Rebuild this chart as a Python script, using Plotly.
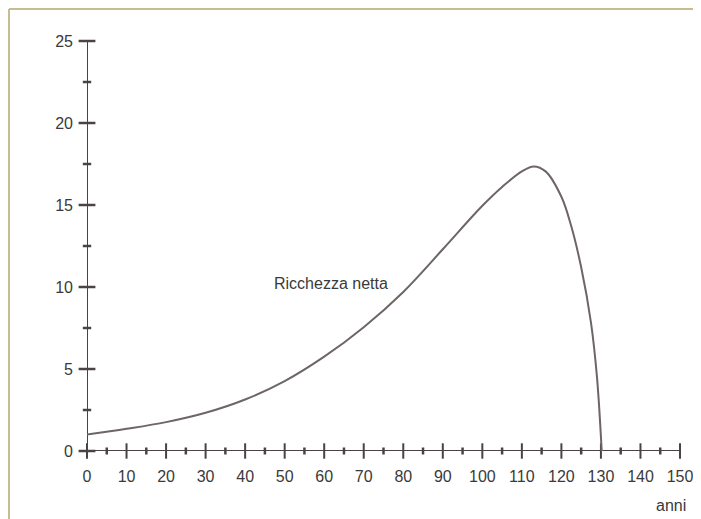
import plotly.graph_objects as go

# ---- data ----
years = [0, 10, 20, 30, 40, 50, 60, 70, 80, 90, 100, 105, 110, 113, 116, 120, 122.5, 125, 127.5, 129, 130.2]
wealth = [1.0, 1.35, 1.76, 2.33, 3.14, 4.26, 5.75, 7.55, 9.7, 12.3, 14.95, 16.1, 17.05, 17.35, 17.05, 15.5, 13.7, 11.2, 7.8, 4.5, 0.0]

x_major = [0, 10, 20, 30, 40, 50, 60, 70, 80, 90, 100, 110, 120, 130, 140, 150]
x_minor = [5, 15, 25, 35, 45, 55, 65, 75, 85, 95, 105, 115, 125, 135, 145]
y_major = [0, 5, 10, 15, 20, 25]
y_minor = [2.5, 7.5, 12.5, 17.5, 22.5]

series_label = "Ricchezza netta"
x_unit = "anni"

axis_col = "#4a4343"
curve_col = "#6e6565"
text_col = "#3a3a3a"
font_fam = "Liberation Sans Narrow, Liberation Sans, Arial, sans-serif"
fsize = 16

fig = go.Figure()

# axis lines
fig.add_trace(go.Scatter(x=[-1.8, 150], y=[0, 0], mode="lines",
                         line=dict(color=axis_col, width=2), hoverinfo="skip", cliponaxis=False))
fig.add_trace(go.Scatter(x=[0, 0], y=[0, 25], mode="lines",
                         line=dict(color=axis_col, width=2), hoverinfo="skip", cliponaxis=False))

# ticks crossing the axes
fig.add_trace(go.Scatter(x=x_major, y=[0] * len(x_major), mode="markers",
                         marker=dict(symbol="line-ns-open", size=11, color=axis_col,
                                     line=dict(color=axis_col, width=2)),
                         hoverinfo="skip", cliponaxis=False))
fig.add_trace(go.Scatter(x=x_minor, y=[0] * len(x_minor), mode="markers",
                         marker=dict(symbol="line-ns-open", size=5, color=axis_col,
                                     line=dict(color=axis_col, width=2.5)),
                         hoverinfo="skip", cliponaxis=False))
fig.add_trace(go.Scatter(x=[0] * len(y_major), y=y_major, mode="markers",
                         marker=dict(symbol="line-ew-open", size=12, color=axis_col,
                                     line=dict(color=axis_col, width=2.5)),
                         hoverinfo="skip", cliponaxis=False))
fig.add_trace(go.Scatter(x=[0] * len(y_minor), y=y_minor, mode="markers",
                         marker=dict(symbol="line-ew-open", size=6, color=axis_col,
                                     line=dict(color=axis_col, width=2.5)),
                         hoverinfo="skip", cliponaxis=False))

# curve
fig.add_trace(go.Scatter(x=years, y=wealth, mode="lines",
                         line=dict(color=curve_col, width=2, shape="spline", smoothing=1.0),
                         hoverinfo="skip", cliponaxis=False))

fig.add_annotation(x=61.7, y=10.2, text=series_label, showarrow=False,
                   font=dict(family=font_fam, size=fsize, color=text_col))
fig.add_annotation(x=150, y=0, yshift=-54, xshift=8, text=x_unit, showarrow=False, xanchor="right",
                   font=dict(family=font_fam, size=fsize, color=text_col))

# frame lines (top and left)
fig.add_shape(type="line", xref="paper", yref="paper", x0=-0.1315, x1=1.2, y0=1.078, y1=1.078,
              line=dict(color="#c7bc8e", width=2))
fig.add_shape(type="line", xref="paper", yref="paper", x0=-0.1315, x1=-0.1315, y0=1.078, y1=-0.3,
              line=dict(color="#c7bc8e", width=2))

fig.update_layout(
    width=701, height=519,
    margin=dict(l=79, r=29, t=33, b=75.5, autoexpand=False),
    paper_bgcolor="white", plot_bgcolor="white",
    showlegend=False,
    font=dict(family=font_fam, size=fsize, color=text_col),
    xaxis=dict(range=[0, 150], tickvals=x_major, ticks="", showgrid=False, zeroline=False,
               showline=False, ticklabelstandoff=14, automargin=False, tickfont=dict(size=fsize)),
    yaxis=dict(range=[0, 25], tickvals=y_major, ticks="", showgrid=False, zeroline=False,
               showline=False, ticklabelstandoff=13, automargin=False, tickfont=dict(size=fsize)),
)

fig.write_html("out.html")
